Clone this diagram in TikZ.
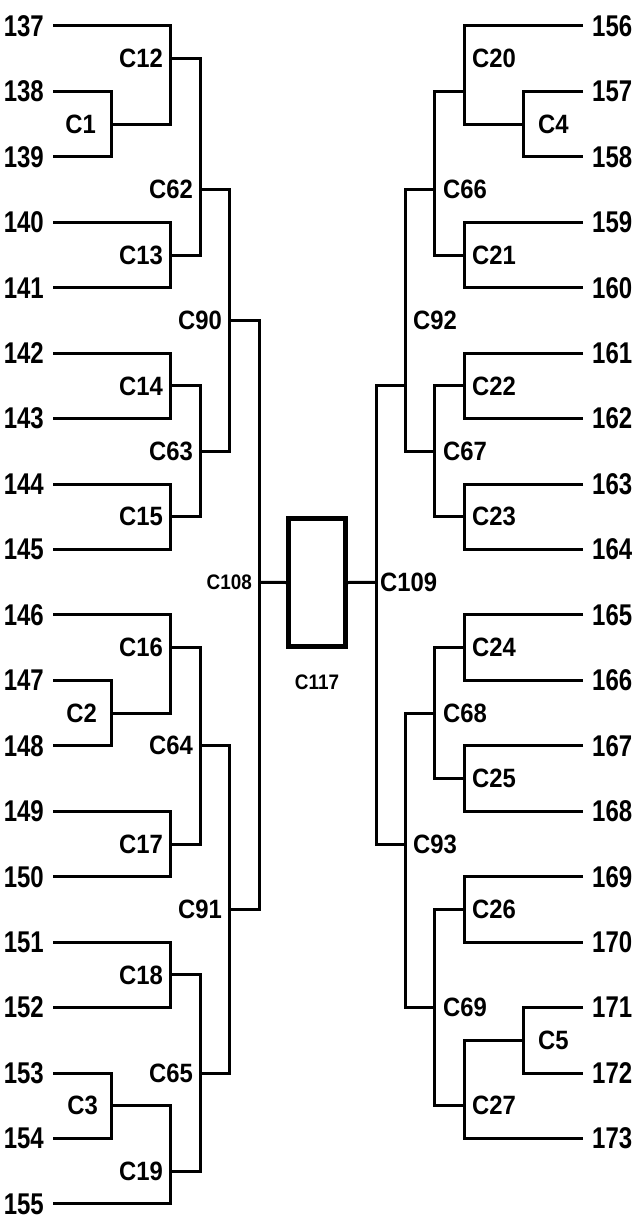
\documentclass[tikz,border=0pt]{standalone}
\usepackage{fontspec}
\setmainfont{Liberation Sans}
\newfontfamily\numfont{Liberation Sans}[FakeStretch=0.8]
\newfontfamily\lblfont{Liberation Sans}[FakeStretch=0.9]
\usepackage{tikz}

\begin{document}
\begin{tikzpicture}[x=1pt,y=-1pt,
    link/.style={line width=3pt},
    leafl/.style={anchor=east,inner xsep=9pt,inner ysep=0pt,font=\numfont\fontsize{30}{32}\selectfont\bfseries},
    leafr/.style={anchor=west,inner xsep=9pt,inner ysep=0pt,font=\numfont\fontsize{30}{32}\selectfont\bfseries},
    clusl/.style={anchor=east,inner sep=0pt,font=\lblfont\fontsize{26.5}{30}\selectfont\bfseries},
    clusr/.style={anchor=west,inner sep=0pt,font=\lblfont\fontsize{26.5}{30}\selectfont\bfseries},
    tinylbl/.style={inner sep=0pt,font=\lblfont\fontsize{21}{24}\selectfont\bfseries}]

  \useasboundingbox (0,0) rectangle (636,1231);

  % leaves
  \foreach \n [count=\i from 0] in {137,...,155}
    \node[leafl] (n\n) at (53,{26+\i*65.44}) {\n};
  \foreach \n [count=\i from 0] in {156,...,173}
    \node[leafr] (n\n) at (583,{26+\i*65.44}) {\n};

  % cluster joints (x of the bar, row of the stub)
  \foreach \nm/\x/\r in {c1/111/3, c12/170/1, c13/170/7, c62/200/5,
      c14/170/11, c15/170/15, c63/200/13, c90/229/9,
      c2/111/21, c16/170/19, c17/170/25, c64/200/22,
      c18/170/29, c3/111/33, c19/170/35, c65/200/32,
      c91/229/27, c108/259/17,
      c4/523/3, c20/464/2, c21/464/7, c66/434/5,
      c22/464/11, c23/464/15, c67/434/13, c92/405/11,
      c24/464/19, c25/464/23, c68/434/21,
      c26/464/27, c5/523/31, c27/464/33, c69/434/30,
      c93/405/25, c109/376/17}
    \coordinate (\nm) at (\x,{26+\r*32.72});

  % root box
  \node[draw,line width=4.6pt,inner sep=0pt,minimum width=57.5pt,
        minimum height=128.4pt] (c117) at (317,582.5) {};
  \node[tinylbl] (tC117) at (317,682) {C117};

  % left tree
  \foreach \a/\c/\b in {n138.east/c1/n139.east, n137.east/c12/c1,
      n140.east/c13/n141.east, c12/c62/c13,
      n142.east/c14/n143.east, n144.east/c15/n145.east,
      c14/c63/c15, c62/c90/c63,
      n147.east/c2/n148.east, n146.east/c16/c2,
      n149.east/c17/n150.east, c16/c64/c17,
      n151.east/c18/n152.east, n153.east/c3/n154.east,
      c3/c19/n155.east, c18/c65/c19,
      c64/c91/c65, c90/c108/c91}
    \draw[link] (\a) -| (\c) |- (\b);

  % right tree
  \foreach \a/\c/\b in {n157.west/c4/n158.west, n156.west/c20/c4,
      n159.west/c21/n160.west, c20/c66/c21,
      n161.west/c22/n162.west, n163.west/c23/n164.west,
      c22/c67/c23, c66/c92/c67,
      n165.west/c24/n166.west, n167.west/c25/n168.west,
      c24/c68/c25,
      n169.west/c26/n170.west, n171.west/c5/n172.west,
      c5/c27/n173.west, c26/c69/c27,
      c68/c93/c69, c92/c109/c93}
    \draw[link] (\a) -| (\c) |- (\b);

  \draw[link] (c108) -- (c117.west);
  \draw[link] (c109) -- (c117.east);

  % cluster labels
  \foreach \nm/\x/\r in {C12/163/1, C1/96/3, C62/193/5, C13/163/7,
      C90/222/9, C14/163/11, C63/193/13, C15/163/15,
      C16/163/19, C2/97/21, C64/193/22, C17/163/25,
      C91/222/27, C18/163/29, C65/193/32, C3/98/33, C19/163/35}
    \node[clusl] (t\nm) at (\x,{26+\r*32.72}) {\nm};
  \node[tinylbl,anchor=east] (tC108) at (252,582.24) {C108};

  \foreach \nm/\x/\r in {C20/472/1, C4/538/3, C66/443/5, C21/472/7,
      C92/413/9, C22/472/11, C67/443/13, C23/472/15, C109/380/17,
      C24/472/19, C68/443/21, C25/472/23, C93/413/25,
      C26/472/27, C69/443/30, C5/538/31, C27/472/33}
    \node[clusr] (t\nm) at (\x,{26+\r*32.72}) {\nm};
\end{tikzpicture}
\end{document}
